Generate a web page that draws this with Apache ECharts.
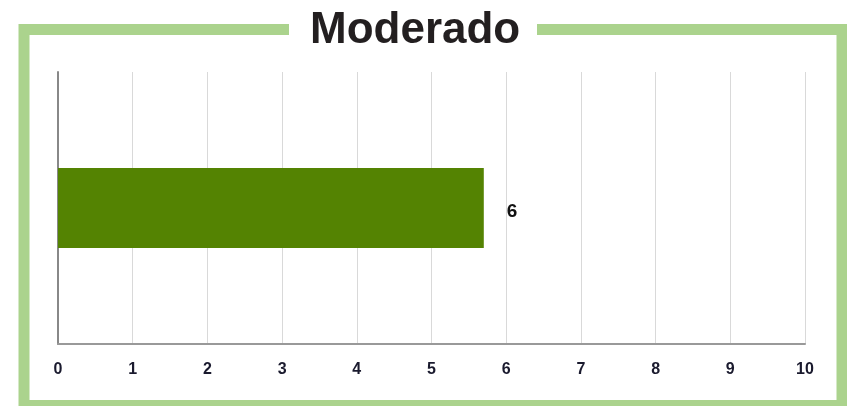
<!DOCTYPE html>
<html>
<head>
<meta charset="utf-8">
<script src="https://cdn.jsdelivr.net/npm/echarts@6/dist/echarts.min.js"></script>
<style>
	html,body{margin:0;padding:0;background:#fff;}
	#chart{width:847px;height:406px;}
</style>
</head>
<body>
<div id="chart"></div>
<script type="text/javascript">
// datos
var titulo = 'Moderado';
var categorias = ['Moderado'];
var valores = [5.7];
var etiquetas = ['6'];

var myChart = echarts.init(document.getElementById('chart'));

var option = {
	backgroundColor: '#fff',
	animation: false,
	graphic: [
		// marco verde
		{type: 'rect', shape: {x: 24, y: 29.5, width: 818, height: 376}, style: {fill: 'none', stroke: '#abd38d', lineWidth: 11}},
		// hueco del titulo
		{type: 'rect', shape: {x: 289, y: 20, width: 248, height: 20}, style: {fill: '#fff'}},
		{type: 'text', left: 310, top: 9, style: {text: titulo, fontSize: 44, fontWeight: 'bold', fontFamily: 'Liberation Sans', fill: '#231f20'}}
	],
	grid: {left: 58, right: 42, top: 72, bottom: 62},
	xAxis: {
		type: 'value',
		min: 0,
		max: 10,
		interval: 1,
		axisLine: {show: true, lineStyle: {color: '#999', width: 2}},
		axisTick: {show: false},
		axisLabel: {margin: 18, fontSize: 16, fontWeight: 'bold', color: '#1a1a2e', fontFamily: 'Liberation Sans'},
		splitLine: {show: true, lineStyle: {color: '#d9d9d9', width: 1}}
	},
	yAxis: {
		type: 'category',
		data: categorias,
		axisLine: {show: true, lineStyle: {color: '#888', width: 2}},
		axisTick: {show: false},
		axisLabel: {show: false}
	},
	series: [{
		type: 'bar',
		data: valores,
		barWidth: 80,
		itemStyle: {color: '#548302'},
		label: {
			show: true,
			position: 'right',
			distance: 23,
			offset: [0, 4],
			fontSize: 19,
			fontWeight: 'bold',
			color: '#111',
			fontFamily: 'Liberation Sans',
			formatter: function(p){ return etiquetas[p.dataIndex]; }
		}
	}]
};

myChart.setOption(option);
</script>
</body>
</html>
